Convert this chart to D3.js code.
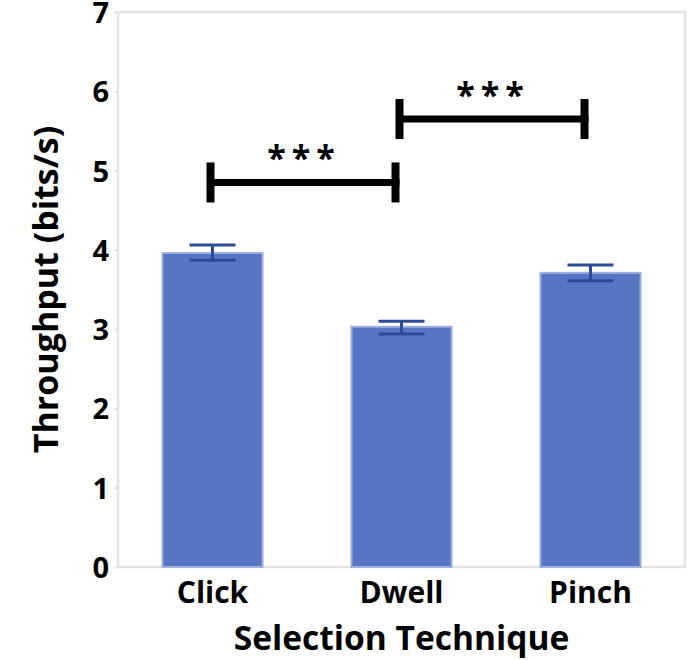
<!DOCTYPE html>
<html>
<head>
<meta charset="utf-8">
<script src="https://cdn.jsdelivr.net/npm/d3@7"></script>
<style>
  body { margin: 0; background: #fff; }
  text { font-family: "Open Sans", "Noto Sans", sans-serif; font-weight: bold; fill: #000; }
</style>
</head>
<body>
<div id="chart"></div>
<script>
// --- data ---------------------------------------
var techniques = ["Click", "Dwell", "Pinch"]
var throughput = [3.96, 3.03, 3.71]
var errLow = [3.87, 2.94, 3.61]
var errHigh = [4.06, 3.10, 3.81]
var yTicks = [0, 1, 2, 3, 4, 5, 6, 7]
// significance brackets: from, to, level, label
var sigFrom = ["Click", "Dwell"]
var sigTo = ["Dwell", "Pinch"]
var sigLevel = [4.85, 5.65]
var sigLabel = ["***", "***"]

var width = 692,
    height = 660,
    margin = { top: 12, right: 7, bottom: 93, left: 118 }

var svg = d3.select("#chart").append("svg")
  .attr("width", width)
  .attr("height", height)

var x = d3.scaleBand()
  .domain(techniques)
  .range([margin.left, width - margin.right])
  .paddingInner(0.47)
  .paddingOuter(0.235)

var y = d3.scaleLinear()
  .domain([0, 7])
  .range([height - margin.bottom, margin.top])

// frame
svg.append("rect")
  .attr("x", margin.left)
  .attr("y", margin.top)
  .attr("width", width - margin.left - margin.right)
  .attr("height", height - margin.top - margin.bottom)
  .style("fill", "none")
  .style("stroke", "#e3e3e3")
  .style("stroke-width", 2.5)

// y axis
var yAxis = svg.append("g")
  .attr("transform", `translate(${margin.left},0)`)
  .call(d3.axisLeft(y).tickValues(yTicks).tickFormat(d3.format("d")).tickSize(4).tickPadding(5))
yAxis.select(".domain").remove()
yAxis.selectAll("line").style("stroke", "#e3e3e3").style("stroke-width", 2)
yAxis.selectAll("text")
  .style("font-size", "29px")
  .attr("dy", "0.36em")

// x axis
var xAxis = svg.append("g")
  .attr("transform", `translate(0,${height - margin.bottom})`)
  .call(d3.axisBottom(x).tickSize(0).tickPadding(13))
xAxis.select(".domain").remove()
xAxis.selectAll("text")
  .style("font-size", "30px")
  .attr("dy", "0.75em")

// bars
svg.append("g")
  .selectAll("rect")
  .data(techniques)
  .enter().append("rect")
    .attr("x", (d) => x(d))
    .attr("y", (d, i) => y(throughput[i]))
    .attr("width", x.bandwidth())
    .attr("height", (d, i) => y(0) - y(throughput[i]))
    .style("fill", "#5676c4")
    .style("stroke", "#9fb0df")
    .style("stroke-width", 2)

// error bars
var capW = 46
var err = svg.append("g")
  .selectAll("g")
  .data(techniques)
  .enter().append("g")
    .style("stroke", "#2c4a9a")
    .style("stroke-width", 3)
err.append("line")
  .attr("x1", (d) => x(d) + x.bandwidth() / 2)
  .attr("x2", (d) => x(d) + x.bandwidth() / 2)
  .attr("y1", (d, i) => y(errLow[i]))
  .attr("y2", (d, i) => y(errHigh[i]))
err.append("line")
  .attr("x1", (d) => x(d) + x.bandwidth() / 2 - capW / 2)
  .attr("x2", (d) => x(d) + x.bandwidth() / 2 + capW / 2)
  .attr("y1", (d, i) => y(errHigh[i]))
  .attr("y2", (d, i) => y(errHigh[i]))
err.append("line")
  .attr("x1", (d) => x(d) + x.bandwidth() / 2 - capW / 2)
  .attr("x2", (d) => x(d) + x.bandwidth() / 2 + capW / 2)
  .attr("y1", (d, i) => y(errLow[i]))
  .attr("y2", (d, i) => y(errLow[i]))

// significance brackets
var cx = (d) => x(d) + x.bandwidth() / 2
var sig = svg.append("g")
  .selectAll("g")
  .data(sigLevel)
  .enter().append("g")
sig.append("line")
  .attr("x1", (d, i) => cx(sigFrom[i]) - 2)
  .attr("x2", (d, i) => cx(sigTo[i]) - 2)
  .attr("y1", (d) => y(d))
  .attr("y2", (d) => y(d))
  .style("stroke", "#000")
  .style("stroke-width", 7)
sig.selectAll(".tick-end")
  .data((d, i) => [{ x: cx(sigFrom[i]) - 2, lv: d }, { x: cx(sigTo[i]) - 6, lv: d }])
  .enter().append("line")
    .attr("x1", (e) => e.x)
    .attr("x2", (e) => e.x)
    .attr("y1", (e) => y(e.lv) - 20)
    .attr("y2", (e) => y(e.lv) + 20)
    .style("stroke", "#000")
    .style("stroke-width", 8)
sig.append("text")
  .attr("x", (d, i) => (cx(sigFrom[i]) + cx(sigTo[i])) / 2 - 3)
  .attr("y", (d) => y(d) - 12)
  .attr("text-anchor", "middle")
  .style("font-size", "34px")
  .style("letter-spacing", "6px")
  .text((d, i) => sigLabel[i])

// axis titles
svg.append("text")
  .attr("x", (margin.left + width - margin.right) / 2)
  .attr("y", 650)
  .attr("text-anchor", "middle")
  .style("font-size", "33.5px")
  .text("Selection Technique")

svg.append("text")
  .attr("transform", `translate(58,${y(3.5)}) rotate(-90)`)
  .attr("text-anchor", "middle")
  .style("font-size", "34px")
  .text("Throughput (bits/s)")
</script>
</body>
</html>
